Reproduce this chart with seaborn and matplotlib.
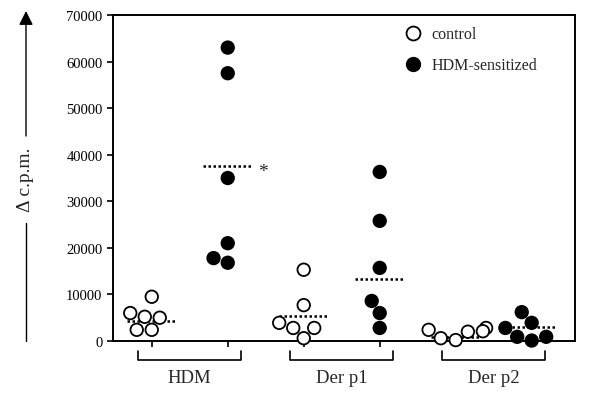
import matplotlib
matplotlib.use("Agg")
import matplotlib.pyplot as plt
import matplotlib.transforms as mtransforms
from matplotlib.lines import Line2D
import seaborn as sns
import pandas as pd

# Values (delta c.p.m.)
columns = ["HDM_ctrl", "HDM_sens", "Derp1_ctrl", "Derp1_sens", "Derp2_ctrl", "Derp2_sens"]
conditions = ["control", "HDM-sensitized", "control", "HDM-sensitized", "control", "HDM-sensitized"]
hdm_ctrl = [9500, 6000, 5000, 5200, 2400, 2400]
hdm_sens = [63000, 57500, 35000, 21000, 16800, 17800]
derp1_ctrl = [15300, 7700, 3900, 2800, 2800, 600]
derp1_sens = [36300, 25800, 15700, 8600, 6000, 2800]
derp2_ctrl = [2800, 2400, 2100, 2000, 600, 200]
derp2_sens = [6200, 3900, 2800, 900, 900, 100]
mean_lines = [4300, 37600, 5400, 13300, 900, 3000]
group_labels = ["HDM", "Der p1", "Der p2"]
y_ticks = [0, 10000, 20000, 30000, 40000, 50000, 60000, 70000]


def build_frame():
    """Long-form table for seaborn."""
    values = [hdm_ctrl, hdm_sens, derp1_ctrl, derp1_sens, derp2_ctrl, derp2_sens]
    rows = []
    for col, cond, vals in zip(columns, conditions, values):
        for v in vals:
            rows.append({"column": col, "condition": cond, "cpm": v})
    return pd.DataFrame(rows)


def main():
    sns.set_style("ticks")
    plt.rcParams["font.family"] = ["Liberation Serif", "DejaVu Serif"]

    df = build_frame()
    fig = plt.figure(figsize=(6, 4.1), dpi=100)
    ax = fig.add_axes([113 / 600, 68 / 410, 462 / 600, 326 / 410])

    sns.swarmplot(data=df, x="column", y="cpm", hue="condition", order=columns,
                  hue_order=["control", "HDM-sensitized"],
                  palette={"control": "white", "HDM-sensitized": "black"},
                  size=9.0, edgecolor="black", linewidth=1.3, legend=False, ax=ax)
    for coll in ax.collections:
        coll.set_clip_on(False)

    # dotted mean lines
    for i, m in enumerate(mean_lines):
        ax.hlines(m, i - 0.33, i + 0.33, colors="black", linewidth=1.8,
                  linestyles=(0, (1, 1.0)), zorder=1)
    # significance mark next to the HDM-sensitized line
    ax.annotate("*", xy=(1 + 0.4, mean_lines[1]), xytext=(0, -4),
                textcoords="offset points", fontsize=14, ha="left", va="center")

    ax.set_xlim(-0.51, 5.57)
    ax.set_ylim(0, 70000)
    ax.set_yticks(y_ticks)
    ax.set_yticklabels([str(t) for t in y_ticks], fontsize=10.5)
    ax.set_xticks(range(len(columns)))
    ax.set_xticklabels([""] * len(columns))
    ax.set_xlabel("")
    ax.set_ylabel("")
    for sp in ax.spines.values():
        sp.set_visible(True)
        sp.set_linewidth(1.4)
        sp.set_color("black")
    ax.tick_params(axis="both", length=4, width=1.2, color="black", labelcolor="black")

    # group brackets under the x axis
    trans = mtransforms.blended_transform_factory(ax.transData, ax.transAxes)
    for g, label in enumerate(group_labels):
        left, right = 2 * g - 0.18, 2 * g + 1.18
        ax.plot([left, left, right, right], [-0.031, -0.058, -0.058, -0.031],
                color="black", linewidth=1.2, transform=trans, clip_on=False)
        ax.text(2 * g + 0.5, -0.113, label, fontsize=13.5, ha="center", va="center",
                transform=trans)

    # legend
    handles = [Line2D([], [], linestyle="none", marker="o", markersize=10,
                      markerfacecolor="white", markeredgecolor="black", markeredgewidth=1.3),
               Line2D([], [], linestyle="none", marker="o", markersize=10,
                      markerfacecolor="black", markeredgecolor="black")]
    ax.legend(handles, ["control", "HDM-sensitized"], loc="upper left",
              bbox_to_anchor=(0.6, 0.985), frameon=False, fontsize=11.5,
              handletextpad=0.2, labelspacing=0.95, borderaxespad=0)

    # y label with arrow
    x_arrow = 26 / 600
    fig.add_artist(Line2D([x_arrow, x_arrow], [1 - 342 / 410, 1 - 224 / 410],
                          color="black", linewidth=1.0))
    ax.annotate("", xy=(x_arrow, 1 - 12 / 410), xytext=(x_arrow, 1 - 137 / 410),
                xycoords="figure fraction", textcoords="figure fraction",
                arrowprops=dict(arrowstyle="-|>", color="black", lw=1.0,
                                mutation_scale=21, shrinkA=0, shrinkB=0))
    fig.text(x_arrow, 1 - 180 / 410, "\u0394 c.p.m.", rotation=90, fontsize=14,
             ha="center", va="center")

    fig.savefig("out.png", dpi=100)


if __name__ == "__main__":
    main()
